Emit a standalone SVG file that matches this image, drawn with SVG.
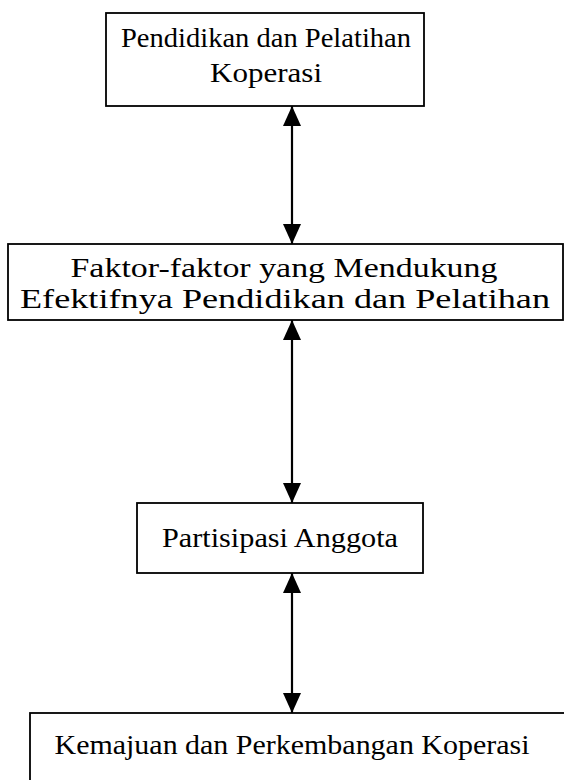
<svg xmlns="http://www.w3.org/2000/svg" width="564" height="780" viewBox="0 0 564 780">
<style>
.box{fill:#fff;stroke:#000;stroke-width:1.8}
.t{font-family:"Liberation Serif","Times New Roman",serif;font-size:28px;fill:#000;text-anchor:middle}
.c{stroke:#000;stroke-width:2.2;fill:none}
</style>
<defs>
<marker id="ah" viewBox="0 0 20 18" refX="20" refY="9" markerWidth="20" markerHeight="18" markerUnits="userSpaceOnUse" orient="auto-start-reverse">
<path d="M0,0 L20,9 L0,18 Z" fill="#000"/>
</marker>
</defs>
<rect width="564" height="780" fill="#fff"/>
<g id="connectors">
<line class="c" x1="292" y1="106" x2="292" y2="244" marker-start="url(#ah)" marker-end="url(#ah)"/>
<line class="c" x1="292" y1="320" x2="292" y2="503" marker-start="url(#ah)" marker-end="url(#ah)"/>
<line class="c" x1="292" y1="573" x2="292" y2="713" marker-start="url(#ah)" marker-end="url(#ah)"/>
</g>
<g id="node1">
<rect class="box" x="106" y="13" width="318" height="93"/>
<text class="t" x="266" y="47" textLength="290" lengthAdjust="spacingAndGlyphs">Pendidikan dan Pelatihan</text>
<text class="t" x="266" y="82" textLength="112" lengthAdjust="spacingAndGlyphs">Koperasi</text>
</g>
<g id="node2">
<rect class="box" x="8" y="244" width="555" height="76"/>
<text class="t" x="284" y="277" textLength="427" lengthAdjust="spacingAndGlyphs">Faktor-faktor yang Mendukung</text>
<text class="t" x="285" y="308" textLength="530" lengthAdjust="spacingAndGlyphs">Efektifnya Pendidikan dan Pelatihan</text>
</g>
<g id="node3">
<rect class="box" x="137" y="503" width="286" height="70"/>
<text class="t" x="280" y="547" textLength="236" lengthAdjust="spacingAndGlyphs">Partisipasi Anggota</text>
</g>
<g id="node4">
<rect class="box" x="30" y="713" width="540" height="80"/>
<text class="t" x="292" y="754" textLength="475" lengthAdjust="spacingAndGlyphs">Kemajuan dan Perkembangan Koperasi</text>
</g>
</svg>
